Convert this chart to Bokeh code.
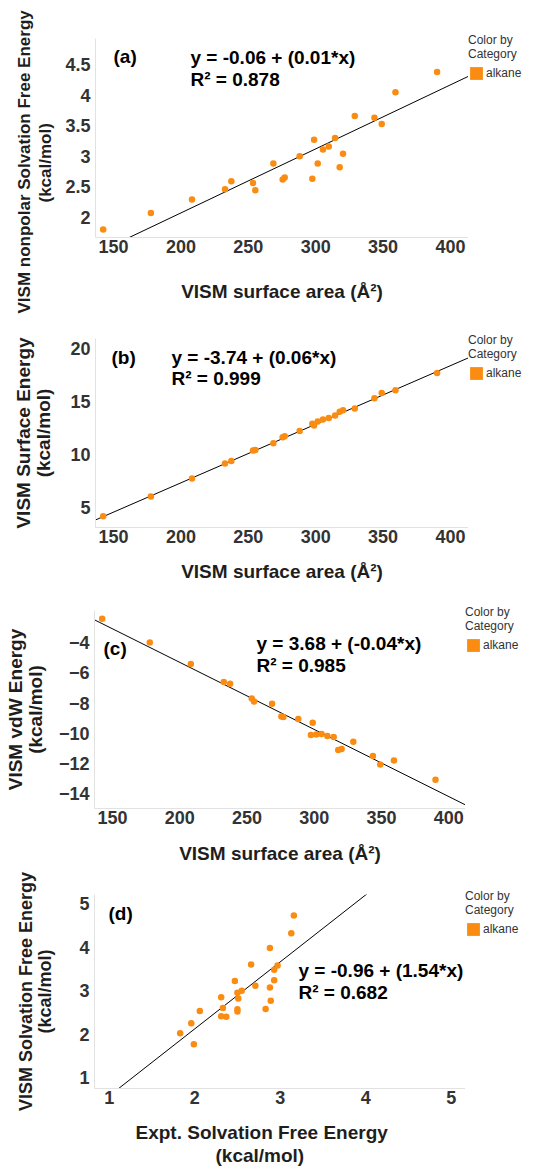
import numpy as np
from bokeh.plotting import figure
from bokeh.models import Range1d, FixedTicker, NumeralTickFormatter, Label, Legend, LegendItem, Title
from bokeh.layouts import column, row
from bokeh.embed import file_html
from bokeh.resources import INLINE

# ---------------- data ----------------
surface_area = [142.3, 177.7, 208.2, 232.7, 237.4, 253.5, 255.2, 268.6, 275.5, 277.0, 288.1, 297.5,
                298.8, 301.5, 305.4, 309.7, 314.4, 317.8, 320.3, 329.0, 343.6, 349.0, 359.2, 390.1]
nonpolar_energy = [1.80, 2.07, 2.29, 2.46, 2.59, 2.56, 2.44, 2.88, 2.62, 2.65, 3.00, 2.63,
                   3.27, 2.88, 3.11, 3.16, 3.30, 2.82, 3.04, 3.66, 3.63, 3.53, 4.05, 4.38]
surface_energy = [4.16, 6.00, 7.70, 9.11, 9.35, 10.34, 10.40, 11.02, 11.59, 11.68, 12.19, 12.87,
                  12.69, 13.08, 13.26, 13.41, 13.65, 14.00, 14.15, 14.30, 15.26, 15.76, 16.03, 17.65]
vdw_energy = [-2.41, -3.98, -5.41, -6.60, -6.71, -7.70, -7.90, -8.05, -8.89, -8.93, -9.06, -10.11,
              -9.31, -10.09, -10.05, -10.18, -10.25, -11.11, -11.04, -10.56, -11.51, -12.08, -11.81, -13.09]
expt_solvation = [1.83, 1.96, 1.99, 2.06, 2.31, 2.33, 2.31, 2.37, 2.47, 2.50, 2.51, 2.50, 2.50,
                  2.55, 2.66, 2.71, 2.83, 2.88, 2.88, 2.89, 2.93, 2.93, 2.97, 3.13, 3.16]
vism_solvation = [2.02, 2.25, 1.77, 2.53, 2.85, 2.60, 2.41, 2.40, 3.22, 2.95, 2.82, 2.57, 2.52,
                  3.00, 3.60, 3.11, 2.58, 3.98, 3.07, 2.77, 3.24, 3.48, 3.58, 4.32, 4.73]

# regression lines [intercept, slope]
fit_a = [-0.03, 0.0105]
fit_b = [-3.74, 0.0552]
fit_c = [3.60, -0.0445]
fit_d = [-0.96, 1.54]

eq_a = ["y = -0.06 + (0.01*x)", "R\u00b2 = 0.878"]
eq_b = ["y = -3.74 + (0.06*x)", "R\u00b2 = 0.999"]
eq_c = ["y = 3.68 + (-0.04*x)", "R\u00b2 = 0.985"]
eq_d = ["y = -0.96 + (1.54*x)", "R\u00b2 = 0.682"]

x_ticks_area = [150, 200, 250, 300, 350, 400]
y_ticks_a = [2, 2.5, 3, 3.5, 4, 4.5]
y_ticks_b = [5, 10, 15, 20]
y_ticks_c = [-14, -12, -10, -8, -6, -4]
ticks_d = [1, 2, 3, 4, 5]

category = "alkane"
legend_title = "Color by\nCategory"
x_title_area = "VISM surface area (\u00c5\u00b2)"
y_title_a = ["VISM nonpolar Solvation Free Energy", "(kcal/mol)"]
y_title_b = "VISM Surface Energy\n(kcal/mol)"
y_title_c = "VISM vdW Energy\n(kcal/mol)"
y_title_d = "VISM Solvation Free Energy\n(kcal/mol)"
x_title_d = ["Expt. Solvation Free Energy", "(kcal/mol)"]

# ---------------- styling ----------------
ORANGE = "#FB8C12"
FONT = "Liberation Sans"
TICK_COLOR = "#333333"
LABEL_COLOR = "#1e1e1e"
W = 535
FRAMES = {}


def no_align(p):
    try:
        p.frame_align = False
    except AttributeError:
        pass


def make_panel(H, T, FH, L, FW, xr, yr):
    p = figure(width=L + FW, height=H, x_range=Range1d(*xr), y_range=Range1d(*yr),
               min_border_left=L, min_border_right=0,
               min_border_top=T, min_border_bottom=H - T - FH,
               output_backend="svg", toolbar_location=None, tools="")
    no_align(p)
    p.xgrid.visible = False
    p.ygrid.visible = False
    p.outline_line_color = None
    for ax in (p.xaxis[0], p.yaxis[0]):
        ax.axis_line_color = "#e2e2e2"
        ax.axis_line_width = 1
        ax.major_tick_line_color = None
        ax.minor_tick_line_color = None
        ax.major_tick_in = 0
        ax.major_tick_out = 0
        ax.minor_tick_in = 0
        ax.minor_tick_out = 0
        ax.major_label_text_font = FONT
        ax.major_label_text_font_style = "bold"
        ax.major_label_text_font_size = "18px"
        ax.major_label_text_color = TICK_COLOR
        ax.axis_label_text_font = FONT
        ax.axis_label_text_font_style = "bold"
        ax.axis_label_text_font_size = "19px"
        ax.axis_label_text_color = LABEL_COLOR
        ax.axis_label_text_line_height = 0.97
    p.xaxis[0].major_label_standoff = 2
    p.yaxis[0].major_label_standoff = 5
    FRAMES[id(p)] = (FW, FH, H, T, L)
    return p


def to_data(p, dx, dy):
    FW, FH = FRAMES[id(p)][:2]
    xs, xe = p.x_range.start, p.x_range.end
    ys, ye = p.y_range.start, p.y_range.end
    return xs + dx * (xe - xs) / FW, ye - dy * (ye - ys) / FH


def add_text(p, dx, dy, text, size="19px", align="left", color="#000000"):
    x, y = to_data(p, dx, dy)
    p.add_layout(Label(x=x, y=y, text=text, text_font=FONT, text_font_size=size,
                       text_font_style="bold", text_align=align, text_baseline="middle",
                       text_color=color))


def side_title(p, side, text, offset, size, standoff=0):
    p.add_layout(Title(text=text, align="left", offset=offset, standoff=standoff,
                       text_font=FONT, text_font_size=size, text_font_style="bold",
                       text_color=LABEL_COLOR), side)


def spacer_label(ax, gap):
    # invisible zero-width label used only to push outer titles away from the axis
    ax.axis_label = "\u200b"
    ax.axis_label_text_font_size = "1px"
    ax.axis_label_standoff = gap


def legend_panel(p):
    FW, FH, H, T, L = FRAMES[id(p)]
    lf = figure(width=W - L - FW, height=H, x_range=Range1d(0, 1), y_range=Range1d(0, 1),
                min_border_left=0, min_border_right=0, min_border_top=T - 5,
                min_border_bottom=0, x_axis_location=None, y_axis_location=None,
                output_backend="svg", toolbar_location=None, tools="")
    no_align(lf)
    lf.grid.visible = False
    lf.outline_line_color = None
    nan = [float("nan")]
    sw = lf.quad(left=nan, right=nan, top=nan, bottom=nan, fill_color=ORANGE, line_color=None)
    lg = Legend(items=[LegendItem(label=category, renderers=[sw])], title=legend_title,
                location="top_left", orientation="vertical", margin=0, padding=3,
                spacing=0, glyph_width=16, glyph_height=16, label_standoff=2,
                label_height=16, title_standoff=4,
                label_text_font=FONT, label_text_font_size="12px", label_text_color="#333333",
                title_text_font=FONT, title_text_font_size="12px", title_text_font_style="normal",
                title_text_color="#333333", title_text_line_height=1.35,
                border_line_color=None, background_fill_alpha=0)
    lf.add_layout(lg)
    return lf


def add_content(p, x, y, fit, eq, tag, tag_pos, eq_pos):
    xr0, xr1 = p.x_range.start, p.x_range.end
    lx = np.array([xr0, xr1])
    p.line(lx, fit[0] + fit[1] * lx, line_color="black", line_width=1)
    p.scatter(x, y, size=6.5, fill_color=ORANGE, line_color=None)
    add_text(p, tag_pos[0], tag_pos[1], tag)
    add_text(p, eq_pos[0], eq_pos[1], eq[0])
    add_text(p, eq_pos[0], eq_pos[1] + 22, eq[1])


def set_ticks(ax, ticks):
    ax.ticker = FixedTicker(ticks=ticks)


# ---- panel (a)
pa = make_panel(314, 38, 199, 95, 373, (136.6, 413.4), (1.667, 4.93))
set_ticks(pa.xaxis[0], x_ticks_area)
set_ticks(pa.yaxis[0], y_ticks_a)
pa.yaxis[0].formatter = NumeralTickFormatter(format="0.[0]")
pa.xaxis[0].axis_label = x_title_area
pa.xaxis[0].axis_label_standoff = 25
spacer_label(pa.yaxis[0], 4)
side_title(pa, "left", y_title_a[1], 35, "17px")
side_title(pa, "left", y_title_a[0], -76, "17px")
add_content(pa, surface_area, nonpolar_energy, fit_a, eq_a, "(a)", (18, 18), (95, 19))

# ---- panel (b)
pb = make_panel(270, 24, 199, 95, 373, (136.6, 413.4), (3.09, 20.9))
set_ticks(pb.xaxis[0], x_ticks_area)
set_ticks(pb.yaxis[0], y_ticks_b)
pb.xaxis[0].axis_label = x_title_area
pb.xaxis[0].axis_label_standoff = 15
pb.yaxis[0].axis_label = y_title_b
pb.yaxis[0].axis_label_standoff = 13
add_content(pb, surface_area, surface_energy, fit_b, eq_b, "(b)", (16, 20), (76, 20))

# ---- panel (c)
pc = make_panel(286, 26, 198, 94, 371, (136.6, 412.4), (-14.99, -1.86))
set_ticks(pc.xaxis[0], x_ticks_area)
set_ticks(pc.yaxis[0], y_ticks_c)
pc.xaxis[0].axis_label = x_title_area
pc.xaxis[0].axis_label_standoff = 16
pc.yaxis[0].axis_label = y_title_c
pc.yaxis[0].axis_label_standoff = 10
add_content(pc, surface_area, vdw_energy, fit_c, eq_c, "(c)", (9, 38), (162, 33))

# ---- panel (d)
pd_ = make_panel(296, 24, 194, 94, 371, (0.828, 5.168), (0.75, 5.21))
set_ticks(pd_.xaxis[0], ticks_d)
set_ticks(pd_.yaxis[0], ticks_d)
pd_.yaxis[0].axis_label = y_title_d
pd_.yaxis[0].axis_label_text_font_size = "18px"
pd_.yaxis[0].axis_label_standoff = 21
spacer_label(pd_.xaxis[0], 9)
side_title(pd_, "below", x_title_d[0], 41, "19px")
side_title(pd_, "below", x_title_d[1], 121, "19px")
add_content(pd_, expt_solvation, vism_solvation, fit_d, eq_d, "(d)", (14, 19), (204, 76))

rows = [row(p, legend_panel(p), spacing=0) for p in (pa, pb, pc, pd_)]
layout = column(*rows, spacing=0)
open("out.html", "w").write(file_html(layout, INLINE))
